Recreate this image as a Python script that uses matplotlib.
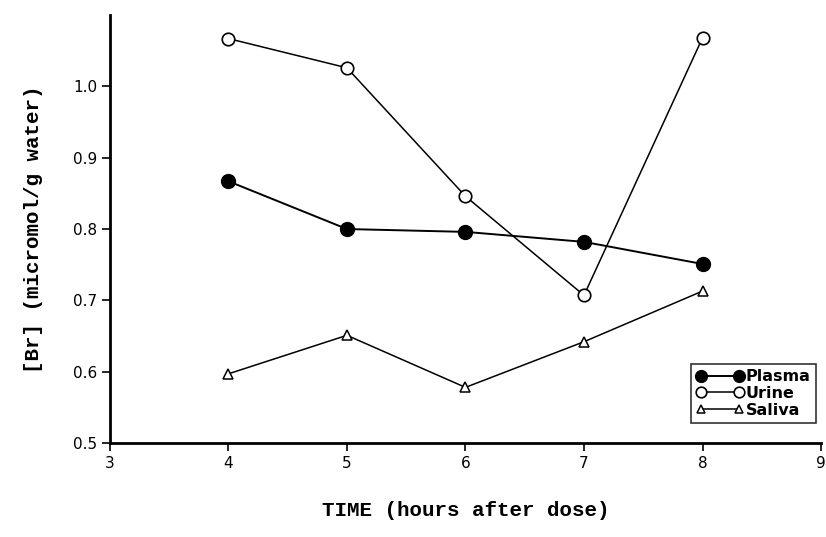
import matplotlib
matplotlib.use("Agg")
import matplotlib.pyplot as plt

# ── data ─────────────────────────────────────────────────────────────────────
hours  = [4, 5, 6, 7, 8]
plasma = [0.867, 0.800, 0.796, 0.782, 0.751]
urine  = [1.067, 1.026, 0.846, 0.707, 1.068]
saliva = [0.597, 0.651, 0.578, 0.642, 0.713]

x_ticks = [3, 4, 5, 6, 7, 8, 9]
y_ticks = [0.5, 0.6, 0.7, 0.8, 0.9, 1.0]

fig = plt.figure(figsize=(8.26, 5.37), dpi=100)
ax = fig.add_axes([0.133, 0.175, 0.861, 0.797])

ax.plot(hours, plasma, "-o", color="black", linewidth=1.4,
        markersize=10, markerfacecolor="black", label="Plasma")
ax.plot(hours, urine, "-o", color="black", linewidth=1.1,
        markersize=9, markerfacecolor="white", markeredgewidth=1.2,
        label="Urine")
ax.plot(hours, saliva, "-^", color="black", linewidth=1.1,
        markersize=7, markerfacecolor="white", markeredgewidth=1.1,
        label="Saliva")

ax.set_xlim(3, 9)
ax.set_ylim(0.5, 1.1)
ax.set_xticks(x_ticks)
ax.set_yticks(y_ticks)
ax.set_xticklabels([str(t) for t in x_ticks], fontsize=11,
                   family="DejaVu Sans Condensed")
ax.set_yticklabels([f"{t:.1f}" for t in y_ticks], fontsize=11,
                   family="DejaVu Sans Condensed")

for side in ("top", "right"):
    ax.spines[side].set_visible(False)
for side in ("left", "bottom"):
    ax.spines[side].set_linewidth(2)
ax.tick_params(direction="out", length=6, width=1.2, pad=3)

ax.set_xlabel("TIME (hours after dose)", fontsize=15, family="Liberation Mono",
              fontweight="bold", labelpad=22)
ax.set_ylabel("[Br] (micromol/g water)", fontsize=15, family="Liberation Mono",
              fontweight="bold", labelpad=22)

leg = ax.legend(loc="lower right", bbox_to_anchor=(1.0, 0.035),
                numpoints=2, handlelength=3.0, markerscale=0.85, frameon=True,
                fancybox=False, edgecolor="black", borderpad=0.35,
                labelspacing=0.1, handletextpad=0.1, borderaxespad=0.3,
                prop={"family": "DejaVu Sans Condensed", "weight": "bold",
                      "size": 11.5})
leg.get_frame().set_linewidth(1.2)

fig.savefig("out.png", dpi=100)
